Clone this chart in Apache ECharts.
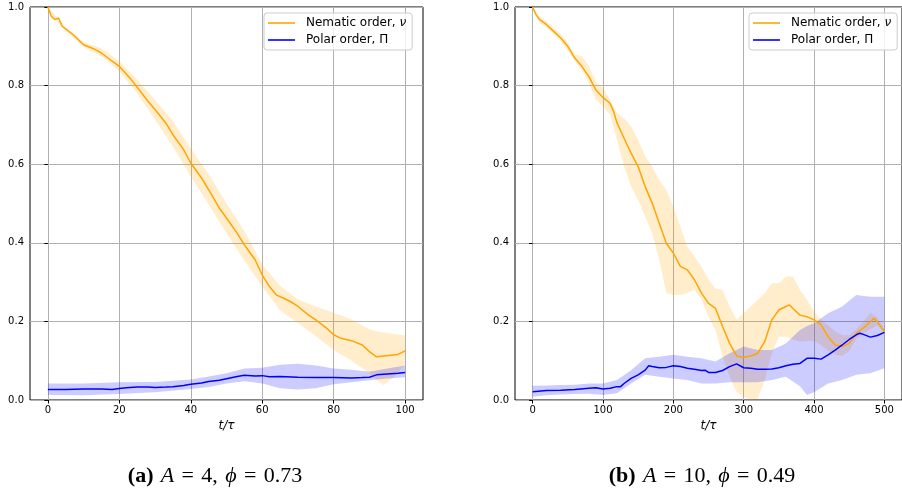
<!DOCTYPE html>
<html>
<head>
<meta charset="utf-8">
<script src="https://cdn.jsdelivr.net/npm/echarts@6/dist/echarts.min.js"></script>
<style>
  html, body { margin: 0; padding: 0; background: #fff; }
  #chart { width: 902px; height: 495px; }
</style>
</head>
<body>
<div id="chart"></div>
<script>
const NEM = 'Nematic order, ν';
const POL = 'Polar order, Π';

// panel (a): A = 4, phi = 0.73
const aNemT = [0, 1, 2, 3, 4, 5, 7, 10, 13, 15, 18, 20, 23, 25, 28, 30, 33, 35, 38, 40, 43, 45, 48, 50, 53, 55, 58, 60, 62, 64, 66, 68, 70, 73, 75, 78, 80, 82, 85, 88, 90, 92, 94, 96, 98, 100];
const aNem = [1.0, 0.976, 0.968, 0.972, 0.951, 0.944, 0.93, 0.904, 0.893, 0.883, 0.862, 0.849, 0.819, 0.796, 0.76, 0.739, 0.705, 0.675, 0.637, 0.603, 0.565, 0.535, 0.488, 0.463, 0.424, 0.395, 0.357, 0.318, 0.289, 0.267, 0.259, 0.25, 0.238, 0.216, 0.204, 0.183, 0.166, 0.157, 0.151, 0.14, 0.123, 0.11, 0.112, 0.114, 0.116, 0.125];
const aNemBandT = [0, 5, 10, 15, 20, 25, 30, 35, 40, 45, 50, 55, 60, 65, 70, 75, 80, 85, 90, 92, 94, 97, 100];
const aNemHi = [1.0, 0.95, 0.91, 0.895, 0.862, 0.815, 0.764, 0.71, 0.64, 0.575, 0.5, 0.43, 0.345, 0.29, 0.256, 0.238, 0.222, 0.205, 0.18, 0.175, 0.172, 0.168, 0.165];
const aNemLo = [0.99, 0.938, 0.898, 0.875, 0.836, 0.78, 0.713, 0.645, 0.568, 0.498, 0.424, 0.355, 0.288, 0.228, 0.196, 0.162, 0.127, 0.1, 0.068, 0.05, 0.038, 0.06, 0.09];
const aPolT = [0, 5, 10, 15, 18, 20, 22, 25, 28, 30, 33, 35, 38, 40, 43, 45, 48, 50, 53, 55, 58, 60, 62, 65, 70, 75, 80, 85, 88, 90, 92, 95, 98, 100];
const aPol = [0.027, 0.027, 0.028, 0.028, 0.027, 0.029, 0.031, 0.033, 0.033, 0.032, 0.033, 0.034, 0.037, 0.040, 0.043, 0.047, 0.050, 0.054, 0.060, 0.063, 0.061, 0.062, 0.059, 0.060, 0.058, 0.057, 0.057, 0.056, 0.057, 0.058, 0.064, 0.066, 0.068, 0.070];
const aPolBandT = [0, 10, 20, 30, 40, 45, 50, 55, 60, 65, 70, 75, 80, 85, 90, 95, 100];
const aPolHi = [0.042, 0.042, 0.045, 0.046, 0.052, 0.06, 0.068, 0.08, 0.082, 0.09, 0.092, 0.088, 0.08, 0.077, 0.072, 0.08, 0.088];
const aPolLo = [0.013, 0.012, 0.015, 0.02, 0.028, 0.033, 0.042, 0.048, 0.042, 0.03, 0.027, 0.03, 0.04, 0.045, 0.05, 0.055, 0.058];

// panel (b): A = 10, phi = 0.49
const bNemT = [0, 5, 10, 20, 30, 40, 50, 60, 70, 80, 90, 100, 110, 115, 120, 130, 140, 150, 160, 170, 180, 190, 200, 210, 220, 230, 240, 250, 260, 270, 280, 290, 300, 310, 320, 330, 340, 350, 360, 365, 370, 380, 390, 400, 410, 420, 430, 440, 450, 460, 470, 480, 485, 490, 500];
const bNem = [1.0, 0.98, 0.968, 0.955, 0.938, 0.921, 0.9, 0.87, 0.849, 0.823, 0.789, 0.77, 0.755, 0.735, 0.705, 0.666, 0.628, 0.594, 0.543, 0.501, 0.45, 0.399, 0.374, 0.34, 0.331, 0.306, 0.272, 0.246, 0.233, 0.187, 0.144, 0.112, 0.109, 0.112, 0.119, 0.149, 0.204, 0.229, 0.238, 0.242, 0.233, 0.216, 0.212, 0.204, 0.191, 0.161, 0.14, 0.136, 0.144, 0.17, 0.183, 0.199, 0.208, 0.199, 0.174];
const bNemBandT = [0, 10, 20, 30, 40, 50, 60, 70, 80, 90, 100, 110, 120, 130, 140, 150, 160, 170, 180, 190, 200, 210, 220, 230, 240, 250, 260, 270, 280, 290, 300, 310, 320, 330, 340, 350, 360, 370, 380, 390, 400, 410, 420, 430, 440, 450, 460, 470, 480, 490, 500];
const bNemHi = [1.0, 0.976, 0.963, 0.946, 0.93, 0.91, 0.879, 0.875, 0.85, 0.81, 0.794, 0.764, 0.73, 0.717, 0.696, 0.662, 0.62, 0.594, 0.56, 0.535, 0.492, 0.441, 0.39, 0.365, 0.34, 0.306, 0.284, 0.28, 0.238, 0.204, 0.221, 0.238, 0.255, 0.272, 0.297, 0.297, 0.314, 0.314, 0.28, 0.255, 0.225, 0.205, 0.19, 0.175, 0.165, 0.165, 0.18, 0.2, 0.222, 0.21, 0.18];
const bNemLo = [0.995, 0.96, 0.947, 0.93, 0.912, 0.89, 0.862, 0.84, 0.806, 0.764, 0.747, 0.726, 0.662, 0.594, 0.543, 0.509, 0.467, 0.424, 0.357, 0.272, 0.267, 0.267, 0.272, 0.28, 0.255, 0.212, 0.178, 0.11, 0.059, 0.021, 0.008, 0.0, 0.004, 0.051, 0.119, 0.161, 0.161, 0.153, 0.149, 0.15, 0.15, 0.14, 0.125, 0.115, 0.112, 0.125, 0.155, 0.17, 0.18, 0.19, 0.17];
const bPolT = [0, 20, 40, 60, 80, 90, 100, 110, 120, 125, 130, 140, 150, 160, 165, 170, 180, 190, 200, 210, 220, 230, 240, 245, 250, 260, 270, 280, 290, 300, 310, 320, 330, 340, 350, 360, 370, 380, 390, 400, 410, 420, 430, 440, 450, 460, 465, 470, 480, 490, 500];
const bPol = [0.021, 0.024, 0.025, 0.027, 0.030, 0.031, 0.028, 0.030, 0.034, 0.034, 0.042, 0.055, 0.064, 0.076, 0.087, 0.085, 0.082, 0.083, 0.087, 0.085, 0.081, 0.078, 0.075, 0.076, 0.070, 0.070, 0.075, 0.085, 0.092, 0.082, 0.081, 0.078, 0.078, 0.079, 0.082, 0.087, 0.091, 0.093, 0.106, 0.106, 0.104, 0.115, 0.127, 0.140, 0.154, 0.166, 0.170, 0.167, 0.160, 0.164, 0.172];
const bPolBandT = [0, 20, 40, 60, 80, 100, 120, 140, 160, 180, 200, 220, 240, 260, 280, 300, 320, 340, 360, 380, 390, 400, 420, 440, 460, 480, 500];
const bPolHi = [0.036, 0.037, 0.038, 0.039, 0.042, 0.042, 0.051, 0.076, 0.106, 0.11, 0.115, 0.11, 0.106, 0.098, 0.119, 0.136, 0.127, 0.127, 0.144, 0.178, 0.188, 0.195, 0.221, 0.238, 0.267, 0.263, 0.263];
const bPolLo = [0.008, 0.012, 0.014, 0.015, 0.016, 0.013, 0.017, 0.042, 0.064, 0.059, 0.055, 0.051, 0.042, 0.042, 0.045, 0.045, 0.045, 0.051, 0.059, 0.035, 0.013, 0.02, 0.042, 0.051, 0.064, 0.068, 0.081];

const aTicks = [0, 20, 40, 60, 80, 100];
const bTicks = [0, 100, 200, 300, 400, 500];

const ORANGE = '#ffa500';
const BLUE = '#0000ff';

const chart = echarts.init(document.getElementById('chart'));

function zip(t, v) {
  return t.map((x, i) => [x, v[i]]);
}

// shaded band between lo and hi, drawn as one polygon through the axis scales
function band(idx, t, hi, lo, color) {
  return {
    type: 'custom', xAxisIndex: idx, yAxisIndex: idx, silent: true,
    data: t.map((x, i) => [x, hi[i], lo[i]]),
    encode: { x: 0, y: [1, 2] },
    renderItem: (params, api) => {
      if (params.dataIndex !== 0) return null;
      const top = t.map((x, i) => api.coord([x, hi[i]]));
      const bottom = t.map((x, i) => api.coord([x, lo[i]])).reverse();
      return { type: 'polygon', shape: { points: top.concat(bottom) }, style: { fill: color } };
    }
  };
}

function line(name, idx, t, v, color) {
  return {
    name: name, type: 'line', xAxisIndex: idx, yAxisIndex: idx, data: zip(t, v),
    symbol: 'none',
    itemStyle: { color: color },
    lineStyle: { color: color, width: 1.5 }
  };
}

const tickFont = { fontFamily: 'DejaVu Sans', fontSize: 10, color: '#000' };

function xAxis(idx, min, max, ticks) {
  return {
    type: 'value', gridIndex: idx, min: min, max: max,
    name: 't/τ', nameLocation: 'middle', nameGap: 20,
    nameTextStyle: { fontFamily: 'DejaVu Sans', fontStyle: 'italic', fontSize: 12, color: '#000' },
    axisLine: { show: false },
    axisTick: { show: true, inside: false, length: 3.5, customValues: ticks, lineStyle: { color: '#000' } },
    axisLabel: Object.assign({ customValues: ticks, margin: 5 }, tickFont),
    splitLine: { show: true, lineStyle: { color: '#b0b0b0', width: 1 } }
  };
}

function yAxis(idx) {
  return {
    type: 'value', gridIndex: idx, min: 0, max: 1, interval: 0.2,
    axisLine: { show: false },
    axisTick: { show: true, inside: false, length: 3.5, lineStyle: { color: '#000' } },
    axisLabel: Object.assign({ margin: 6, formatter: v => v.toFixed(1) }, tickFont),
    splitLine: { show: true, lineStyle: { color: '#b0b0b0', width: 1 } }
  };
}

function legend(left) {
  return {
    data: [NEM, POL], left: left, top: 13, orient: 'vertical',
    icon: 'rect', itemWidth: 27, itemHeight: 1.6, itemGap: 5,
    padding: [4, 6, 4, 4],
    backgroundColor: 'rgba(255,255,255,0.8)', borderColor: '#cccccc', borderWidth: 1, borderRadius: 3,
    selectedMode: false,
    formatter: n => n === NEM ? 'Nematic order, {i|ν}' : 'Polar order, Π',
    textStyle: {
      fontFamily: 'DejaVu Sans', fontSize: 12, color: '#000', padding: [0, 0, 0, 6],
      rich: { i: { fontFamily: 'DejaVu Sans', fontStyle: 'italic', fontSize: 12, color: '#000' } }
    }
  };
}

const capRich = {
  b: { fontFamily: 'Liberation Serif', fontWeight: 'bold', fontSize: 22, color: '#000' },
  i: { fontFamily: 'Liberation Serif', fontStyle: 'italic', fontSize: 22, color: '#000' },
  r: { fontFamily: 'Liberation Serif', fontSize: 22, color: '#000' }
};
const SP = '\u2004';

const option = {
  backgroundColor: '#fff',
  animation: false,
  grid: [
    { left: 30, top: 7, width: 393, height: 393, show: true, borderColor: '#000', borderWidth: 1, backgroundColor: 'transparent' },
    { left: 515, top: 7, width: 394, height: 393, show: true, borderColor: '#000', borderWidth: 1, backgroundColor: 'transparent' }
  ],
  xAxis: [xAxis(0, -5, 105, aTicks), xAxis(1, -25, 525, bTicks)],
  yAxis: [yAxis(0), yAxis(1)],
  legend: [legend(264), legend(749)],
  graphic: [
    { type: 'text', x: 215, y: 476, style: { text: `{b|(a)}{r|${SP}}{i|A}{r|${SP}=${SP}4,${SP}}{i|ϕ}{r|${SP}=${SP}0.73}`, rich: capRich, align: 'center', verticalAlign: 'middle' } },
    { type: 'text', x: 702, y: 476, style: { text: `{b|(b)}{r|${SP}}{i|A}{r|${SP}=${SP}10,${SP}}{i|ϕ}{r|${SP}=${SP}0.49}`, rich: capRich, align: 'center', verticalAlign: 'middle' } }
  ],
  series: [
    band(0, aNemBandT, aNemHi, aNemLo, 'rgba(255,165,0,0.2)'),
    line(NEM, 0, aNemT, aNem, ORANGE),
    band(0, aPolBandT, aPolHi, aPolLo, 'rgba(0,0,255,0.2)'),
    line(POL, 0, aPolT, aPol, BLUE),
    band(1, bNemBandT, bNemHi, bNemLo, 'rgba(255,165,0,0.2)'),
    line(NEM, 1, bNemT, bNem, ORANGE),
    band(1, bPolBandT, bPolHi, bPolLo, 'rgba(0,0,255,0.2)'),
    line(POL, 1, bPolT, bPol, BLUE)
  ]
};

chart.setOption(option);
window.addEventListener('resize', () => chart.resize());
</script>
</body>
</html>
